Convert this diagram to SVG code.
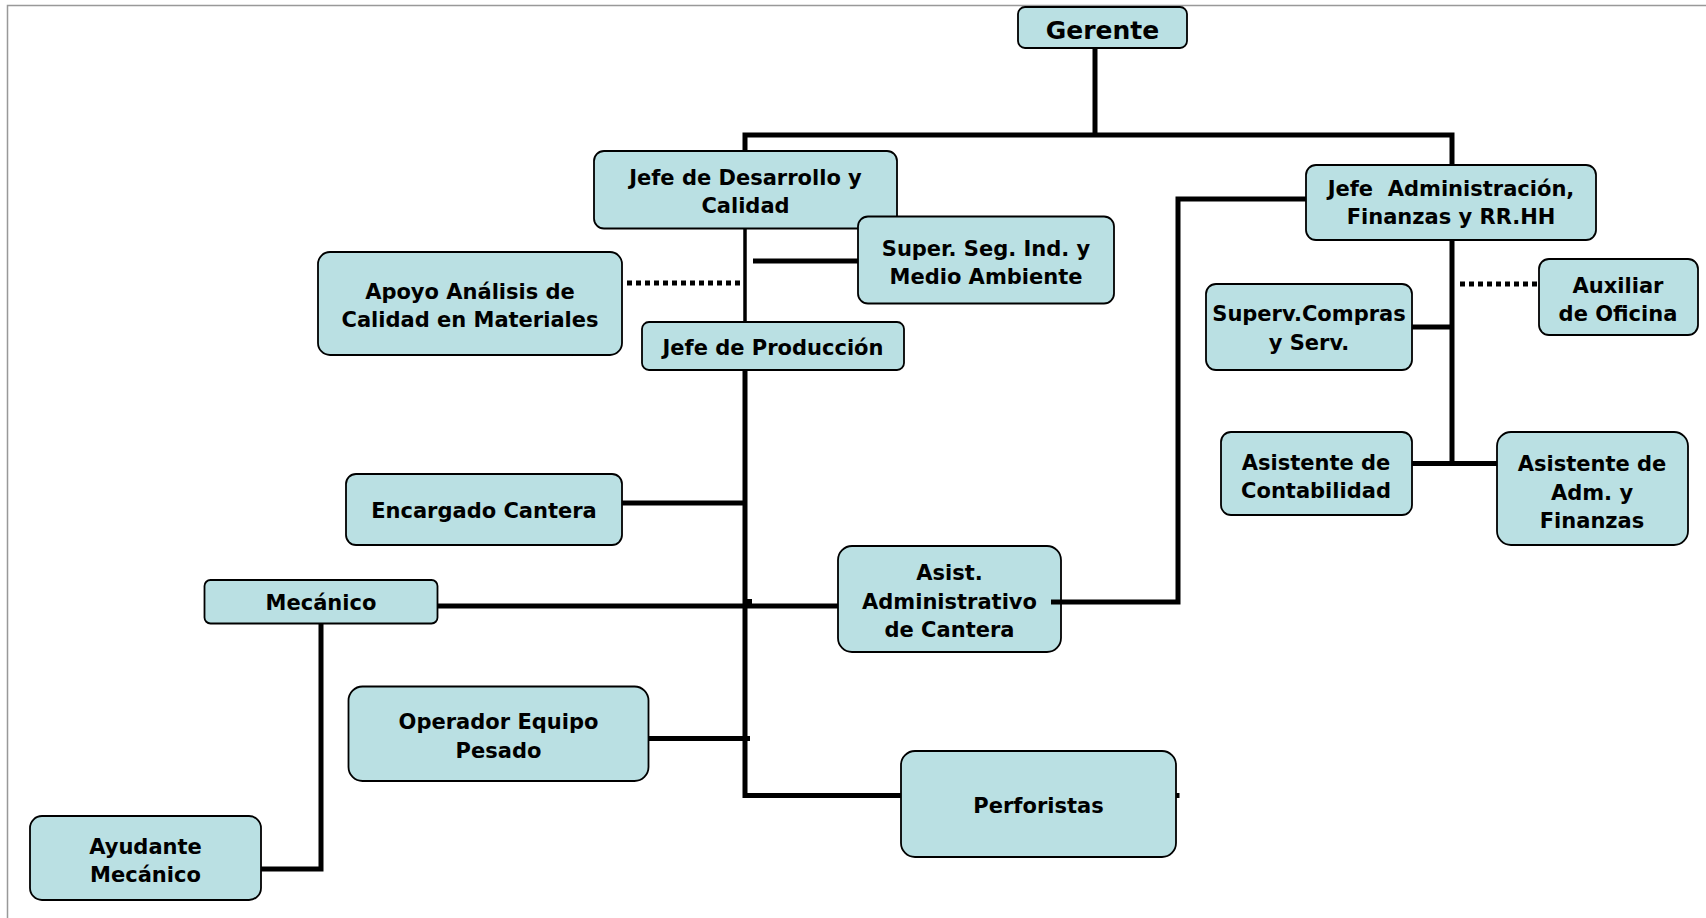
<svg xmlns="http://www.w3.org/2000/svg" width="1706" height="918" viewBox="0 0 1706 918">
<style>
.box{fill:#BAE0E3;stroke:#000;stroke-width:1.8}
.t{font-family:"DejaVu Sans","Liberation Sans",sans-serif;font-weight:bold;font-size:21px;fill:#000;text-anchor:middle;white-space:pre}
.big{font-size:25px}
.ln{fill:none;stroke:#000;stroke-width:5;stroke-linecap:butt;stroke-linejoin:miter}
.thin{stroke-width:3.5}
.dot{fill:none;stroke:#000;stroke-width:5;stroke-dasharray:5 4}
</style>
<rect x="0" y="0" width="1706" height="918" fill="#fff"/>
<rect x="7.5" y="5.5" width="1720" height="930" fill="none" stroke="#999" stroke-width="1.5"/>

<g id="gerente"><rect class="box" x="1018" y="7" width="169" height="41" rx="7"/><text class="t big" x="1102.5" y="39">Gerente</text></g>
<g id="jefe-desarrollo"><rect class="box" x="594" y="151" width="303" height="77.5" rx="10"/><text class="t" x="745.5" y="184.5">Jefe de Desarrollo y</text><text class="t" x="745.5" y="212.5">Calidad</text></g>
<g id="super-seg"><rect class="box" x="858" y="216.5" width="256" height="87" rx="10"/><text class="t" x="986" y="255.5">Super. Seg. Ind. y</text><text class="t" x="986" y="283.5">Medio Ambiente</text></g>
<g id="apoyo"><rect class="box" x="318" y="252" width="304" height="103" rx="12"/><text class="t" x="470" y="299">Apoyo Análisis de</text><text class="t" x="470" y="326.5">Calidad en Materiales</text></g>
<g id="jefe-produccion"><rect class="box" x="642" y="322" width="262" height="48" rx="7"/><text class="t" x="773" y="354.5">Jefe de Producción</text></g>
<g id="jefe-admin"><rect class="box" x="1306" y="165" width="290" height="75" rx="10"/><text class="t" x="1451" y="195.5">Jefe  Administración,</text><text class="t" x="1451" y="223.5">Finanzas y RR.HH</text></g>
<g id="superv-compras"><rect class="box" x="1206" y="284" width="206" height="86" rx="10"/><text class="t" x="1309" y="320.5">Superv.Compras</text><text class="t" x="1309" y="349.5">y Serv.</text></g>
<g id="auxiliar"><rect class="box" x="1539" y="259" width="159" height="76" rx="10"/><text class="t" x="1618" y="292.5">Auxiliar</text><text class="t" x="1618" y="320.5">de Oficina</text></g>
<g id="asist-contabilidad"><rect class="box" x="1221" y="432" width="191" height="83" rx="10"/><text class="t" x="1316" y="469.5">Asistente de</text><text class="t" x="1316" y="497.5">Contabilidad</text></g>
<g id="asist-adm"><rect class="box" x="1497" y="432" width="191" height="113" rx="14"/><text class="t" x="1592" y="471">Asistente de</text><text class="t" x="1592" y="499.5">Adm. y</text><text class="t" x="1592" y="528">Finanzas</text></g>
<g id="encargado"><rect class="box" x="346" y="474" width="276" height="71" rx="10"/><text class="t" x="484" y="518">Encargado Cantera</text></g>
<g id="mecanico"><rect class="box" x="204.5" y="580" width="233" height="43.5" rx="6"/><text class="t" x="321" y="610">Mecánico</text></g>
<g id="asist-admin-cantera"><rect class="box" x="838" y="546" width="223" height="106" rx="14"/><text class="t" x="949.5" y="580">Asist.</text><text class="t" x="949.5" y="608.5">Administrativo</text><text class="t" x="949.5" y="637">de Cantera</text></g>
<g id="operador"><rect class="box" x="348.5" y="686.5" width="300" height="94.5" rx="14"/><text class="t" x="498.5" y="729">Operador Equipo</text><text class="t" x="498.5" y="757.5">Pesado</text></g>
<g id="perforistas"><rect class="box" x="901" y="751" width="275" height="106" rx="14"/><text class="t" x="1038.5" y="813">Perforistas</text></g>
<g id="ayudante"><rect class="box" x="30" y="816" width="231" height="84" rx="12"/><text class="t" x="145.5" y="853.5">Ayudante</text><text class="t" x="145.5" y="882">Mecánico</text></g>

<g id="connectors">
<path class="ln" d="M1095 48 V135"/>
<path class="ln" d="M745 151 V135 H1452 V165"/>
<path class="ln thin" d="M745 228.5 V322"/>
<path class="ln" d="M753 261 H858"/>
<path class="dot" d="M627 283 H743"/>
<path class="ln" d="M745 370 V795.5 H901"/>
<path class="ln" d="M622 503 H745"/>
<path class="ln" d="M437.5 606 H838" stroke-width="5.5"/>
<rect x="745" y="599" width="7" height="7" fill="#000"/>
<path class="ln" d="M648.5 738.5 H750"/>
<path class="ln" d="M321 623.5 V869 H261"/>
<path class="ln" d="M1051 602 H1178 V199 H1306"/>
<path class="ln" d="M1452 240 V466"/>
<path class="ln" d="M1412 327 H1452"/>
<path class="ln" d="M1412 463.5 H1497"/>
<path class="dot" d="M1460 284 H1539"/>
<path class="ln" d="M1176 795.5 H1179.5" stroke-width="4"/>
</g>
</svg>
